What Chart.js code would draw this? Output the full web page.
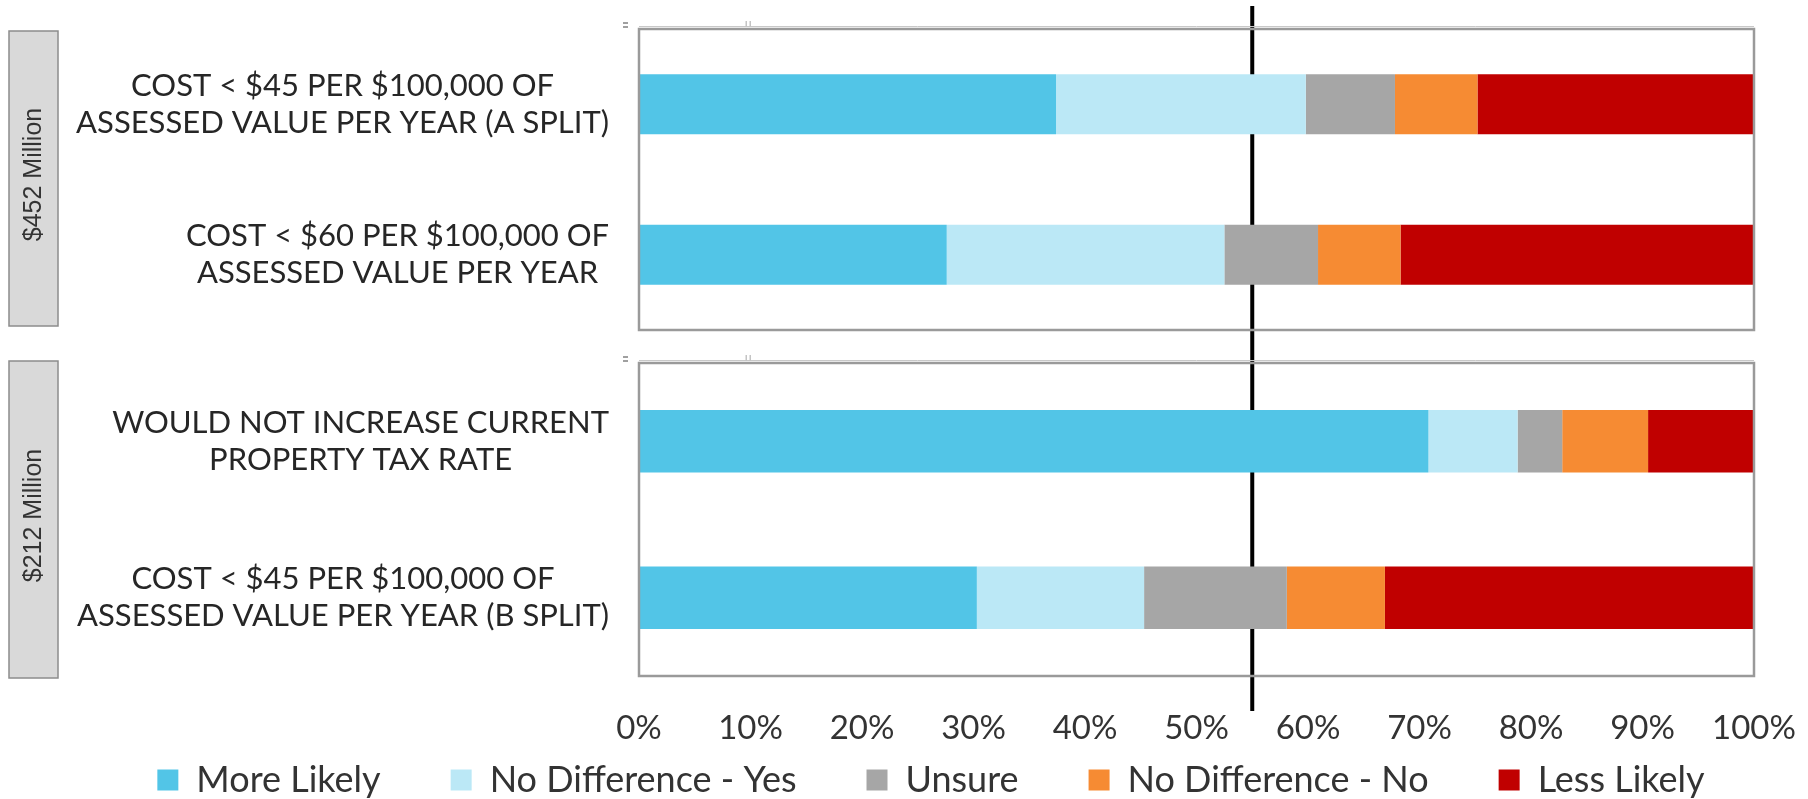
<!DOCTYPE html>
<html><head><meta charset="utf-8">
<script src="https://cdn.jsdelivr.net/npm/chart.js@4.4.1/dist/chart.umd.min.js"></script>
<style>
html,body{margin:0;padding:0;background:#fff;overflow:hidden;width:1808px;height:799px;}
canvas{position:absolute;left:0;}
#c1{top:0;} #c2{top:346px;}
</style></head><body>
<canvas id="c1" width="1808" height="346"></canvas>
<canvas id="c2" width="1808" height="470"></canvas>
<script>
const groupLabels = ['$452 Million', '$212 Million'];
const topCategories = [
  ['COST < $45 PER $100,000 OF', 'ASSESSED VALUE PER YEAR (A SPLIT)'],
  ['COST < $60 PER $100,000 OF', 'ASSESSED VALUE PER YEAR']
];
const bottomCategories = [
  ['WOULD NOT INCREASE CURRENT', 'PROPERTY TAX RATE'],
  ['COST < $45 PER $100,000 OF', 'ASSESSED VALUE PER YEAR (B SPLIT)']
];
const seriesNames = ['More Likely', 'No Difference - Yes', 'Unsure', 'No Difference - No', 'Less Likely'];
const seriesColors = ['#52c5e7', '#bbe8f6', '#a6a6a6', '#f68b33', '#c00000'];
// percent values, rows in order: top row 1, top row 2, bottom row 1, bottom row 2
const moreLikely = [37.4, 27.6, 70.8, 30.3];
const noDiffYes  = [22.4, 24.9,  8.0, 15.0];
const unsure     = [ 8.0,  8.4,  4.0, 12.8];
const noDiffNo   = [ 7.4,  7.4,  7.7,  8.8];
const lessLikely = [24.8, 31.7,  9.5, 33.1];
const referenceLine = 55;
const xTickValues = [0, 10, 20, 30, 40, 50, 60, 70, 80, 90, 100];
const xTickLabels = ['0%', '10%', '20%', '30%', '40%', '50%', '60%', '70%', '80%', '90%', '100%'];

const seriesValues = [moreLikely, noDiffYes, unsure, noDiffNo, lessLikely];
const FONT = 'Lato, "Noto Sans", sans-serif';
const TEXT = '#262626';

function makeDatasets(from, to) {
  return seriesNames.map((name, i) => ({
    label: name,
    data: seriesValues[i].slice(from, to),
    backgroundColor: seriesColors[i],
    borderWidth: 0,
    barPercentage: 0.4,
    categoryPercentage: 1.0
  }));
}

function decor(cats, groupLabel, lineTop, lineBottom, boxTopOff, boxBotOff, drawTicks) {
  return {
    id: 'decor',
    beforeDatasetsDraw(chart) {
      const ctx = chart.ctx;
      const x = chart.scales.x.getPixelForValue(referenceLine);
      ctx.save();
      ctx.strokeStyle = '#000';
      ctx.lineWidth = 4;
      ctx.beginPath();
      ctx.moveTo(x, lineTop);
      ctx.lineTo(x, lineBottom);
      ctx.stroke();
      ctx.restore();
    },
    afterDatasetsDraw(chart) {
      const ctx = chart.ctx;
      const a = chart.chartArea;
      const xs = chart.scales.x;
      ctx.save();
      // faint line above the panel and small leftover marks
      ctx.strokeStyle = '#c8c8c8';
      ctx.lineWidth = 1;
      ctx.beginPath();
      ctx.moveTo(a.left, a.top - 2.5);
      ctx.lineTo(a.right, a.top - 2.5);
      ctx.stroke();
      ctx.fillStyle = '#a0a0a0';
      ctx.fillRect(a.left - 16, a.top - 7, 5, 2);
      ctx.fillRect(a.left - 16, a.top - 3, 5, 2);
      const tx = xs.getPixelForValue(10);
      ctx.fillStyle = '#c4c4c4';
      ctx.fillRect(tx - 5, a.top - 8, 1.5, 6);
      ctx.fillRect(tx - 1, a.top - 8, 1.5, 6);
      // panel border
      ctx.strokeStyle = '#9a9a9a';
      ctx.lineWidth = 2.5;
      ctx.strokeRect(a.left, a.top, a.right - a.left, a.bottom - a.top);
      // category labels
      const ys = chart.scales.y;
      ctx.font = '31px ' + FONT;
      ctx.fillStyle = TEXT;
      ctx.textAlign = 'center';
      ctx.textBaseline = 'middle';
      const rightEdge = a.left - 30;
      const lh = 37;
      cats.forEach((lines, i) => {
        const y = ys.getPixelForTick(i);
        const w = Math.max(...lines.map(l => ctx.measureText(l).width));
        const cx = rightEdge - w / 2;
        lines.forEach((l, j) => {
          ctx.fillText(l, cx, y + (j - (lines.length - 1) / 2) * lh);
        });
      });
      // x tick labels
      if (drawTicks) {
        ctx.font = '33px ' + FONT;
        ctx.fillStyle = '#333';
        xTickValues.forEach((v, i) => {
          ctx.fillText(xTickLabels[i], xs.getPixelForValue(v), a.bottom + 52);
        });
      }
      // group box
      const bx = 9, bw = 49;
      const by = a.top + boxTopOff, bh = (a.bottom + boxBotOff) - by;
      ctx.fillStyle = '#d9d9d9';
      ctx.fillRect(bx, by, bw, bh);
      ctx.strokeStyle = '#8c8c8c';
      ctx.lineWidth = 1.5;
      ctx.strokeRect(bx, by, bw, bh);
      ctx.translate(bx + bw / 2, by + bh / 2);
      ctx.rotate(-Math.PI / 2);
      ctx.fillStyle = '#333';
      ctx.font = '25px "Liberation Sans", Arial, sans-serif';
      ctx.textAlign = 'center';
      ctx.textBaseline = 'middle';
      ctx.fillText(groupLabel, 4, 1);
      ctx.restore();
    }
  };
}

function baseOptions(bottom) {
  const xScale = {
    stacked: true, min: 0, max: 100,
    display: bottom,
    grid: { display: false, drawTicks: false },
    border: { display: false },
    ticks: { display: false }
  };
  if (bottom) xScale.afterFit = s => { s.height = 16; };
  return {
    indexAxis: 'y',
    responsive: false,
    animation: false,
    events: [],
    layout: { padding: bottom ? { top: 17, left: 54, right: 0, bottom: 8 } : { top: 29, left: 54, right: 0, bottom: 16 } },
    scales: {
      x: xScale,
      y: {
        stacked: true,
        position: 'left',
        grid: { display: false, drawTicks: false },
        border: { display: false },
        ticks: { display: false },
        afterFit: s => { s.width = 585; }
      },
      yRight: {
        type: 'category',
        position: 'right',
        grid: { display: false, drawTicks: false },
        border: { display: false },
        ticks: { display: false },
        afterFit: s => { s.width = 54; }
      }
    },
    plugins: {
      tooltip: { enabled: false },
      legend: bottom ? {
        position: 'bottom',
        labels: {
          boxWidth: 21, boxHeight: 21, padding: 70,
          color: '#333',
          font: { family: FONT, size: 36 }
        }
      } : { display: false }
    }
  };
}

new Chart(document.getElementById('c1'), {
  type: 'bar',
  data: { labels: topCategories.map(c => c.join(' ')), datasets: makeDatasets(0, 2) },
  options: baseOptions(false),
  plugins: [decor(topCategories, groupLabels[0], 6, 346, 2, -4, false)]
});
new Chart(document.getElementById('c2'), {
  type: 'bar',
  data: { labels: bottomCategories.map(c => c.join(' ')), datasets: makeDatasets(2, 4) },
  options: baseOptions(true),
  plugins: [decor(bottomCategories, groupLabels[1], 0, 365, -2, 2, true)]
});
</script>
</body></html>
